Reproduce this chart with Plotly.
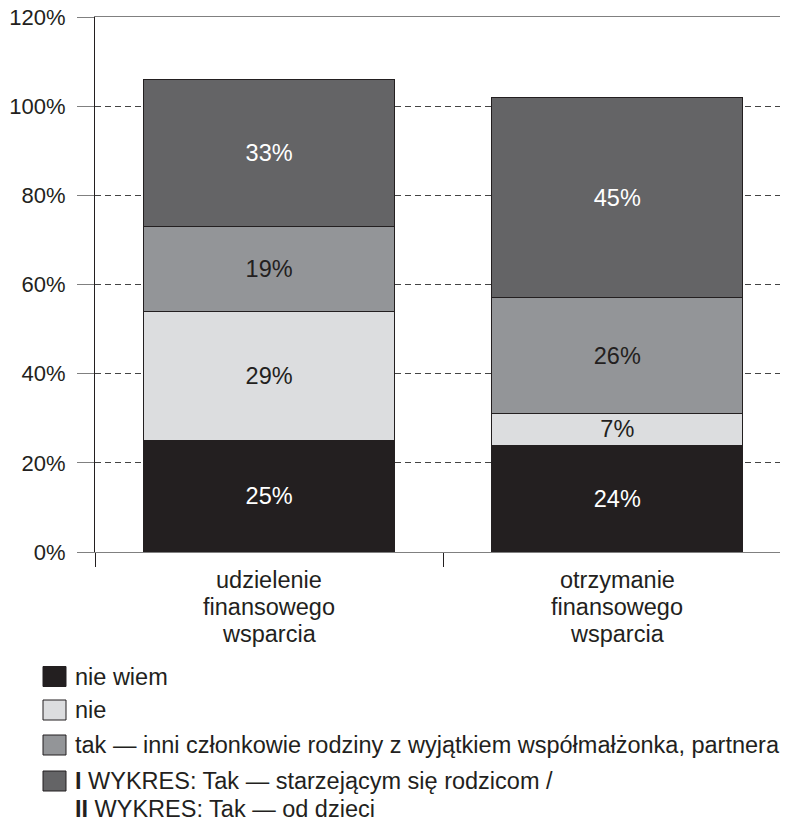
import plotly.graph_objects as go

categories = ["udzielenie<br>finansowego<br>wsparcia", "otrzymanie<br>finansowego<br>wsparcia"]
series_names = [
    "nie wiem",
    "nie",
    "tak — inni członkowie rodziny z wyjątkiem współmałżonka, partnera",
    "<b>I</b> WYKRES: Tak — starzejącym się rodzicom /<br><b>II</b> WYKRES: Tak — od dzieci",
]
nie_wiem = [25, 24]
nie = [29, 7]
tak_inni = [19, 26]
tak_rodzice_dzieci = [33, 45]
series_values = [nie_wiem, nie, tak_inni, tak_rodzice_dzieci]
colors = ["#231f20", "#dcdddf", "#939598", "#646466"]
text_colors = ["#ffffff", "#231f20", "#231f20", "#ffffff"]
y_ticks = [0, 20, 40, 60, 80, 100, 120]
y_tick_labels = ["0%", "20%", "40%", "60%", "80%", "100%", "120%"]

FONT = "Liberation Sans, Arial, sans-serif"
TXT = "#231f20"
FS = 23.5

fig = go.Figure()
for name, vals, col, tcol in zip(series_names, series_values, colors, text_colors):
    fig.add_trace(go.Bar(
        x=categories, y=vals, name=name,
        marker=dict(color=col, line=dict(color="#231f20", width=1)),
        width=0.72,
        text=[f"{v}%" for v in vals],
        textposition="inside", insidetextanchor="middle", textangle=0,
        textfont=dict(color=tcol, size=FS, family=FONT),
        constraintext="none",
        showlegend=False,
        hoverinfo="skip",
    ))

# page-pixel helpers (the page puts the figure 8px in from the top-left)
PLOT_L, PLOT_R, PLOT_T, PLOT_B = 95, 788, 17, 552
def xpaper(px):
    return (px - PLOT_L) / (PLOT_R - PLOT_L)
def ypaper(py):
    return (PLOT_B - py) / (PLOT_B - PLOT_T)

# category labels, one annotation per line for tighter line spacing
CAT_LINE_GAP = 27
for cat in categories:
    for i, line in enumerate(cat.split("<br>")):
        fig.add_annotation(xref="x", yref="paper", x=cat, y=ypaper(580 + i * CAT_LINE_GAP),
                           text=line, showarrow=False, xanchor="center", yanchor="middle",
                           font=dict(size=FS, color=TXT, family=FONT))

# manual legend with large square swatches
leg_rows = [676.5, 710, 745, 781]
LEG_LINE_GAP = 28
for name, col, row in zip(series_names, colors, leg_rows):
    fig.add_shape(type="rect", xref="paper", yref="paper",
                  x0=xpaper(43), x1=xpaper(66), y0=ypaper(row + 10), y1=ypaper(row - 10),
                  fillcolor=col, line=dict(color="#231f20", width=1))
    for i, line in enumerate(name.split("<br>")):
        fig.add_annotation(xref="paper", yref="paper", x=xpaper(73), y=ypaper(row + i * LEG_LINE_GAP),
                           text=line, showarrow=False, xanchor="left", yanchor="middle",
                           align="left", font=dict(size=FS, color=TXT, family=FONT))

fig.update_layout(
    barmode="stack",
    width=780, height=814,
    margin=dict(l=87, r=0, t=9, b=270, pad=0, autoexpand=False),
    paper_bgcolor="white", plot_bgcolor="white",
    font=dict(family=FONT, color=TXT),
)
fig.update_xaxes(
    range=[-0.5, 1.49], automargin=False,
    showline=True, linecolor="#808080", linewidth=1, mirror=True,
    ticks="outside", tickson="boundaries", ticklen=14, tickcolor="#231f20", tickwidth=1,
    showticklabels=False,
    showgrid=False,
)
fig.update_yaxes(
    range=[0, 120], tickvals=y_ticks, ticktext=y_tick_labels, automargin=False,
    showline=True, linecolor="#231f20", linewidth=1,
    ticks="outside", ticklen=17, tickcolor="#808080", tickwidth=1,
    ticklabelstandoff=7, ticklabeloverflow="allow",
    tickfont=dict(size=22, color=TXT, family=FONT),
    showgrid=True, gridcolor="#444444", gridwidth=1, griddash="6px,4px",
    zeroline=False,
)

fig.write_html("out.html")
